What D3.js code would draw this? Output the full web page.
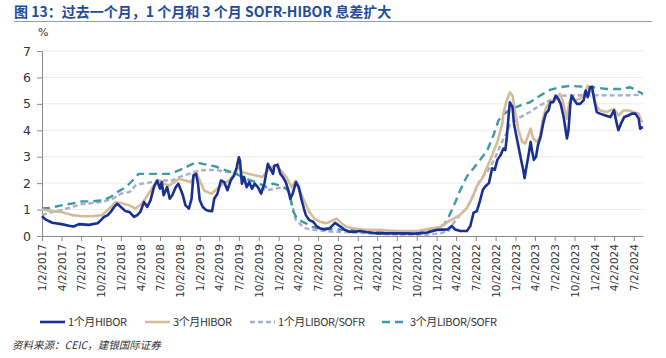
<!DOCTYPE html>
<html>
<head>
<meta charset="utf-8">
<script src="https://cdn.jsdelivr.net/npm/d3@7"></script>
<style>
  body { margin: 0; background: #fff; }
  svg { display: block; font-family: "DejaVu Sans", "Noto Sans CJK SC", sans-serif; }
</style>
</head>
<body>
<svg id="chart" width="666" height="358"></svg>
<script>

// ---- data ----
var seriesNames = ["1个月HIBOR", "3个月HIBOR", "1个月LIBOR/SOFR", "3个月LIBOR/SOFR"];

var tickLabels = ["1/2/2017","4/2/2017","7/2/2017","10/2/2017","1/2/2018","4/2/2018","7/2/2018","10/2/2018",
  "1/2/2019","4/2/2019","7/2/2019","10/2/2019","1/2/2020","4/2/2020","7/2/2020","10/2/2020",
  "1/2/2021","4/2/2021","7/2/2021","10/2/2021","1/2/2022","4/2/2022","7/2/2022","10/2/2022",
  "1/2/2023","4/2/2023","7/2/2023","10/2/2023","1/2/2024","4/2/2024","7/2/2024"];

var yTicks = [0, 1, 2, 3, 4, 5, 6, 7];

var hibor1m = [
  ["2017-01-02",0.75],["2017-01-19",0.62],["2017-02-19",0.50],["2017-04-02",0.45],["2017-05-07",0.39],
  ["2017-05-28",0.36],["2017-06-22",0.45],["2017-08-07",0.42],["2017-09-16",0.48],["2017-10-02",0.60],
  ["2017-10-16",0.72],["2017-11-02",0.79],["2017-11-16",0.91],["2017-12-02",1.10],["2017-12-16",1.22],
  ["2018-01-02",1.10],["2018-01-22",0.95],["2018-02-10",0.91],["2018-03-04",0.72],["2018-03-19",0.79],
  ["2018-04-02",0.91],["2018-04-19",1.29],["2018-05-04",1.10],["2018-05-19",1.35],["2018-06-04",1.85],
  ["2018-06-19",2.10],["2018-07-02",1.79],["2018-07-10",2.04],["2018-07-19",1.54],["2018-08-04",1.85],
  ["2018-08-16",1.41],["2018-08-28",1.54],["2018-09-13",1.85],["2018-09-25",1.98],["2018-10-07",1.73],
  ["2018-10-16",1.54],["2018-10-28",1.16],["2018-11-13",1.04],["2018-11-25",1.41],["2018-12-04",2.29],
  ["2018-12-16",2.35],["2018-12-25",1.98],["2019-01-02",1.35],["2019-01-16",1.10],["2019-02-01",0.98],
  ["2019-02-16",0.95],["2019-02-28",0.94],["2019-03-10",1.41],["2019-03-25",1.60],["2019-04-10",2.10],
  ["2019-04-25",2.04],["2019-05-10",1.73],["2019-05-25",2.10],["2019-06-10",2.29],["2019-06-22",2.60],
  ["2019-07-02",2.98],["2019-07-07",2.85],["2019-07-16",1.98],["2019-07-26",2.23],["2019-08-07",1.85],
  ["2019-08-19",2.04],["2019-09-01",1.79],["2019-09-13",1.98],["2019-09-28",1.85],["2019-10-13",1.60],
  ["2019-10-28",1.98],["2019-11-13",2.73],["2019-11-25",2.54],["2019-12-07",2.35],["2019-12-13",2.66],
  ["2019-12-28",2.70],["2020-01-10",2.35],["2020-01-22",2.23],["2020-02-04",2.04],["2020-02-16",1.73],
  ["2020-02-25",1.41],["2020-03-07",1.60],["2020-03-22",2.04],["2020-04-04",1.85],["2020-04-16",1.41],
  ["2020-04-28",1.04],["2020-05-07",0.79],["2020-05-23",0.60],["2020-06-10",0.54],["2020-06-25",0.38],
  ["2020-07-10",0.29],["2020-08-02",0.25],["2020-08-25",0.29],["2020-09-19",0.50],["2020-10-04",0.41],
  ["2020-10-19",0.33],["2020-11-04",0.23],["2020-11-25",0.16],["2020-12-19",0.16],["2021-01-13",0.19],
  ["2021-02-13",0.14],["2021-04-02",0.10],["2021-07-02",0.10],["2021-10-02",0.09],["2021-11-19",0.13],
  ["2022-01-02",0.23],["2022-02-22",0.25],["2022-03-13",0.38],["2022-03-28",0.25],["2022-04-22",0.19],
  ["2022-05-22",0.19],["2022-06-07",0.38],["2022-06-22",0.88],["2022-07-07",0.94],["2022-07-19",1.25],
  ["2022-08-04",1.75],["2022-08-16",1.88],["2022-09-01",2.00],["2022-09-16",2.56],["2022-09-28",2.50],
  ["2022-10-10",2.88],["2022-10-25",3.06],["2022-11-07",3.31],["2022-11-16",3.25],["2022-11-23",3.75],
  ["2022-12-02",4.63],["2022-12-07",5.06],["2022-12-19",4.88],["2022-12-26",4.25],["2023-01-07",3.75],
  ["2023-01-16",3.38],["2023-01-28",2.88],["2023-02-07",2.50],["2023-02-13",2.19],["2023-02-22",2.63],
  ["2023-03-02",3.00],["2023-03-13",3.56],["2023-03-19",3.25],["2023-03-28",2.88],["2023-04-07",3.00],
  ["2023-04-16",3.44],["2023-04-28",3.75],["2023-05-10",4.25],["2023-05-22",4.63],["2023-06-04",4.75],
  ["2023-06-13",5.06],["2023-06-25",5.06],["2023-07-07",5.31],["2023-07-19",5.19],["2023-07-30",5.00],
  ["2023-08-13",4.50],["2023-08-22",4.00],["2023-08-28",3.69],["2023-09-04",4.00],["2023-09-13",5.00],
  ["2023-09-19",5.31],["2023-10-02",5.13],["2023-10-13",5.00],["2023-10-28",5.00],["2023-11-13",5.13],
  ["2023-11-23",5.50],["2023-12-02",5.25],["2023-12-13",5.63],["2023-12-22",5.65],["2024-01-02",5.13],
  ["2024-01-13",4.69],["2024-01-28",4.63],["2024-02-22",4.56],["2024-03-16",4.50],["2024-04-02",4.75],
  ["2024-04-13",4.31],["2024-04-22",4.00],["2024-05-04",4.25],["2024-05-19",4.50],["2024-06-07",4.56],
  ["2024-06-23",4.63],["2024-07-10",4.63],["2024-07-25",4.44],["2024-08-01",4.06],["2024-08-13",4.13]
];

var hibor3m = [
  ["2017-01-02",1.00],["2017-02-19",0.94],["2017-04-02",0.91],["2017-05-22",0.79],["2017-07-07",0.75],
  ["2017-08-22",0.75],["2017-10-07",0.79],["2017-11-10",1.04],["2017-12-10",1.29],["2018-01-02",1.25],
  ["2018-02-10",1.16],["2018-03-10",1.04],["2018-04-10",1.23],["2018-05-10",1.60],["2018-06-13",2.04],
  ["2018-07-02",2.10],["2018-07-19",1.98],["2018-08-13",1.91],["2018-09-07",2.04],["2018-09-28",2.16],
  ["2018-10-28",2.10],["2018-11-22",2.04],["2018-12-16",2.41],["2019-01-02",2.10],["2019-01-22",1.73],
  ["2019-02-07",1.66],["2019-02-25",1.60],["2019-03-16",1.73],["2019-04-19",1.98],["2019-05-19",2.10],
  ["2019-06-10",2.35],["2019-07-02",2.60],["2019-07-19",2.41],["2019-08-19",2.35],["2019-09-19",2.29],
  ["2019-10-19",2.23],["2019-11-13",2.48],["2019-11-28",2.60],["2019-12-22",2.66],["2020-01-13",2.48],
  ["2020-02-07",2.23],["2020-03-02",1.85],["2020-03-22",2.10],["2020-04-07",1.73],["2020-05-02",1.29],
  ["2020-05-23",0.91],["2020-06-16",0.66],["2020-07-10",0.54],["2020-08-10",0.48],["2020-09-10",0.60],
  ["2020-09-25",0.66],["2020-10-19",0.48],["2020-11-10",0.35],["2020-12-13",0.29],["2021-01-13",0.25],
  ["2021-02-19",0.23],["2021-04-02",0.23],["2021-07-02",0.19],["2021-10-04",0.19],["2021-12-04",0.28],
  ["2022-01-19",0.34],["2022-02-28",0.56],["2022-03-28",0.69],["2022-04-22",0.81],["2022-05-22",1.06],
  ["2022-06-16",1.44],["2022-07-07",1.88],["2022-08-02",2.19],["2022-08-25",2.63],["2022-09-16",3.06],
  ["2022-10-10",3.56],["2022-11-02",4.25],["2022-11-07",4.63],["2022-11-22",5.13],["2022-12-07",5.44],
  ["2022-12-19",5.31],["2023-01-02",4.63],["2023-01-16",4.00],["2023-02-02",3.56],["2023-02-16",3.50],
  ["2023-03-02",3.81],["2023-03-13",4.06],["2023-03-25",3.69],["2023-04-10",3.56],["2023-04-25",3.75],
  ["2023-05-10",4.50],["2023-05-25",4.88],["2023-06-10",5.06],["2023-06-25",5.06],["2023-07-10",5.19],
  ["2023-07-26",5.38],["2023-08-08",5.13],["2023-08-19",4.75],["2023-08-28",4.44],["2023-09-07",5.00],
  ["2023-09-19",5.31],["2023-10-04",5.13],["2023-10-28",5.19],["2023-11-20",5.44],["2023-12-02",5.69],
  ["2023-12-13",5.50],["2023-12-28",5.38],["2024-01-10",4.94],["2024-01-28",4.75],["2024-02-28",4.69],
  ["2024-04-02",4.81],["2024-04-22",4.56],["2024-05-16",4.75],["2024-06-07",4.75],["2024-07-02",4.69],
  ["2024-07-25",4.63],["2024-08-04",4.38],["2024-08-13",4.31]
];

var sofr1m = [
  ["2017-01-02",0.79],["2017-02-04",0.88],["2017-04-02",0.98],["2017-07-02",1.20],["2017-10-07",1.29],
  ["2017-11-25",1.41],["2018-01-02",1.60],["2018-02-10",1.66],["2018-03-10",1.91],["2018-04-10",1.98],
  ["2018-05-28",2.04],["2018-07-02",2.10],["2018-08-28",2.10],["2018-09-28",2.23],["2018-11-13",2.35],
  ["2019-01-02",2.48],["2019-02-16",2.50],["2019-04-02",2.48],["2019-05-19",2.41],["2019-07-02",2.35],
  ["2019-08-19",2.10],["2019-09-28",1.85],["2019-11-07",1.73],["2019-12-22",1.79],["2020-01-22",1.85],
  ["2020-02-16",1.73],["2020-03-07",1.10],["2020-03-22",0.60],["2020-04-16",0.41],["2020-05-07",0.29],
  ["2020-06-10",0.23],["2020-07-25",0.20],["2020-09-10",0.16],["2020-11-25",0.14],["2021-02-19",0.10],
  ["2021-06-16",0.06],["2021-11-19",0.05],["2022-01-19",0.10],["2022-02-25",0.19],["2022-03-22",0.50],
  ["2022-04-22",0.81],["2022-05-22",1.06],["2022-06-22",1.56],["2022-07-22",2.13],["2022-08-25",2.44],
  ["2022-09-25",2.88],["2022-10-25",3.45],["2022-11-25",3.95],["2022-12-07",4.20],["2023-01-25",4.50],
  ["2023-03-10",4.69],["2023-04-25",4.94],["2023-06-10",5.13],["2023-07-26",5.31],["2023-09-13",5.32],
  ["2023-11-28",5.33],["2024-01-28",5.32],["2024-04-16",5.32],["2024-07-02",5.33],["2024-08-13",5.35]
];

var sofr3m = [
  ["2017-01-02",1.04],["2017-02-04",1.06],["2017-04-02",1.16],["2017-05-22",1.23],["2017-07-07",1.31],
  ["2017-08-22",1.31],["2017-10-07",1.35],["2017-11-16",1.48],["2017-12-16",1.66],["2018-01-25",1.85],
  ["2018-02-25",2.10],["2018-03-25",2.35],["2018-05-10",2.35],["2018-06-28",2.35],["2018-08-13",2.35],
  ["2018-09-28",2.48],["2018-11-13",2.66],["2018-12-16",2.79],["2019-01-16",2.73],["2019-03-16",2.63],
  ["2019-05-04",2.48],["2019-06-19",2.35],["2019-08-04",2.16],["2019-09-19",2.04],["2019-11-07",1.85],
  ["2019-12-07",1.98],["2020-01-07",1.91],["2020-02-07",1.79],["2020-02-22",1.60],["2020-03-07",0.98],
  ["2020-03-22",0.73],["2020-04-07",0.60],["2020-05-07",0.48],["2020-06-10",0.33],["2020-07-25",0.29],
  ["2020-09-10",0.25],["2020-11-25",0.23],["2021-02-19",0.20],["2021-06-16",0.15],["2021-10-04",0.13],
  ["2021-11-19",0.19],["2022-01-04",0.29],["2022-02-07",0.44],["2022-02-28",0.75],["2022-03-22",1.13],
  ["2022-04-22",1.75],["2022-05-22",2.25],["2022-06-22",2.56],["2022-07-22",2.88],["2022-08-25",3.25],
  ["2022-09-25",3.88],["2022-10-16",4.38],["2022-11-10",4.63],["2022-12-16",4.81],["2023-01-25",4.94],
  ["2023-03-10",5.06],["2023-04-25",5.31],["2023-06-10",5.53],["2023-07-26",5.63],["2023-09-13",5.68],
  ["2023-11-13",5.65],["2023-12-28",5.63],["2024-02-28",5.56],["2024-05-02",5.56],["2024-06-16",5.63],
  ["2024-07-16",5.50],["2024-08-13",5.38]
];

// ---- layout ----
var margin = {top: 51, right: 23, bottom: 122, left: 42};
var width = 666 - margin.left - margin.right;
var height = 358 - margin.top - margin.bottom;

var parseDate = d3.timeParse("%Y-%m-%d");
var parseTick = d3.timeParse("%m/%d/%Y");

var styles = [
  {color: "#1a2f93", width: 2.6, dash: null},
  {color: "#d5bc98", width: 2.6, dash: null},
  {color: "#a9aecb", width: 2.4, dash: "5,3"},
  {color: "#3f9aa6", width: 2.4, dash: "8,5"}
];
var allSeries = [hibor1m, hibor3m, sofr1m, sofr3m];

var svg = d3.select("#chart");

// title
svg.append("text")
    .attr("x", 14).attr("y", 17)
    .attr("font-family", "'Noto Sans CJK SC', sans-serif")
    .attr("font-size", 14).attr("font-weight", "bold")
    .attr("fill", "#234b9a")
    .text("图 13：过去一个月，1 个月和 3 个月 SOFR-HIBOR 息差扩大");
svg.append("line")
    .attr("x1", 14).attr("x2", 652).attr("y1", 21.5).attr("y2", 21.5)
    .attr("stroke", "#8d9cc8").attr("stroke-width", 1.2);

var g = svg.append("g")
    .attr("transform", "translate(" + margin.left + "," + margin.top + ")");

var x = d3.scaleTime()
    .domain([parseDate("2017-01-02"), parseDate("2024-08-14")])
    .range([0, width]);

var y = d3.scaleLinear()
    .domain([0, 7])
    .range([height, 0]);

// gridlines
g.append("g")
  .selectAll("line")
  .data(yTicks.filter(function(d) { return d > 0; }))
  .enter().append("line")
    .attr("x1", 0).attr("x2", width)
    .attr("y1", function(d) { return y(d); })
    .attr("y2", function(d) { return y(d); })
    .attr("stroke", "#ebebeb").attr("stroke-width", 1);

// y axis
var yAxis = g.append("g")
    .call(d3.axisLeft(y).tickValues(yTicks).tickFormat(d3.format("d")).tickSize(5).tickPadding(6));
yAxis.select(".domain").attr("stroke", "#8a8a8a");
yAxis.selectAll(".tick line").attr("stroke", "#8a8a8a");
yAxis.selectAll("text").attr("font-size", 12.5).attr("fill", "#333").attr("font-family", "'DejaVu Sans', sans-serif");

g.append("text")
    .attr("x", -4).attr("y", -15)
    .attr("font-size", 11).attr("fill", "#333")
    .text("%");

// x axis
var xAxis = g.append("g")
    .attr("transform", "translate(0," + height + ")")
    .call(d3.axisBottom(x)
      .tickValues(tickLabels.map(parseTick))
      .tickFormat(function(d, i) { return tickLabels[i]; })
      .tickSize(5).tickSizeOuter(0));
xAxis.select(".domain").attr("stroke", "#8a8a8a");
xAxis.selectAll(".tick line").attr("stroke", "#8a8a8a");
xAxis.selectAll("text")
    .attr("font-size", 10.5).attr("fill", "#333")
    .attr("font-family", "'DejaVu Sans', sans-serif")
    .attr("text-anchor", "end")
    .attr("dy", "0.35em")
    .attr("transform", "rotate(-90)")
    .attr("x", -8).attr("y", 0);

// lines
var line = d3.line()
    .x(function(d) { return x(parseDate(d[0])); })
    .y(function(d) { return y(d[1]); });

[2, 3, 1, 0].forEach(function(i) {
  g.append("path")
      .datum(allSeries[i])
      .attr("fill", "none")
      .attr("stroke", styles[i].color)
      .attr("stroke-width", styles[i].width)
      .attr("stroke-linejoin", "round")
      .attr("stroke-dasharray", styles[i].dash)
      .attr("d", line);
});

// legend
var legendX = [40, 145, 250, 382];
var legend = svg.append("g").attr("transform", "translate(0,322)");
seriesNames.forEach(function(name, i) {
  legend.append("line")
      .attr("x1", legendX[i]).attr("x2", legendX[i] + 25)
      .attr("y1", 0).attr("y2", 0)
      .attr("stroke", styles[i].color)
      .attr("stroke-width", 2.6)
      .attr("stroke-dasharray", styles[i].dash);
  legend.append("text")
      .attr("x", legendX[i] + 28).attr("y", 4)
      .attr("font-size", 11).attr("fill", "#333")
      .attr("font-family", "'Noto Sans CJK SC', sans-serif")
      .attr("letter-spacing", -0.4)
      .text(name);
});

// source
svg.append("text")
    .attr("x", 12).attr("y", 349)
    .attr("font-size", 10.5).attr("fill", "#333")
    .attr("font-style", "italic")
    .attr("font-family", "'Noto Sans CJK SC', sans-serif")
    .text("资料来源：CEIC，建银国际证券");

</script>
</body>
</html>
